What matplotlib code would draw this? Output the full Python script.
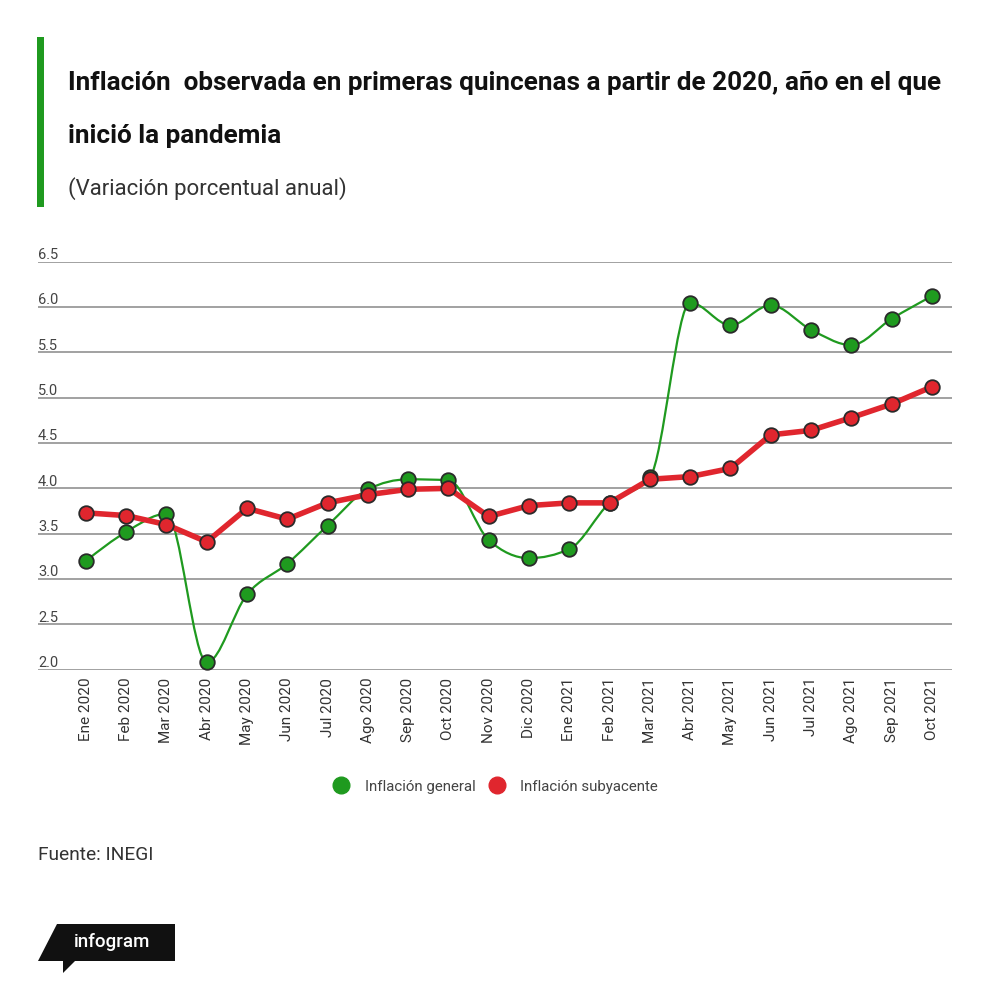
import numpy as np
import matplotlib
matplotlib.use("Agg")
import matplotlib.pyplot as plt
from matplotlib.path import Path
from matplotlib.patches import PathPatch, Polygon, Rectangle
from matplotlib.lines import Line2D

plt.rcParams['font.family'] = ['Roboto', 'DejaVu Sans']

# %%
meses = ['Ene 2020', 'Feb 2020', 'Mar 2020', 'Abr 2020', 'May 2020', 'Jun 2020',
         'Jul 2020', 'Ago 2020', 'Sep 2020', 'Oct 2020', 'Nov 2020', 'Dic 2020',
         'Ene 2021', 'Feb 2021', 'Mar 2021', 'Abr 2021', 'May 2021', 'Jun 2021',
         'Jul 2021', 'Ago 2021', 'Sep 2021', 'Oct 2021']

general = [3.20, 3.52, 3.72, 2.08, 2.83, 3.17, 3.59, 3.99, 4.10, 4.09, 3.43,
           3.23, 3.33, 3.84, 4.12, 6.05, 5.80, 6.02, 5.75, 5.58, 5.87, 6.12]

subyacente = [3.73, 3.70, 3.60, 3.41, 3.78, 3.66, 3.84, 3.93, 3.99, 4.00, 3.69,
              3.81, 3.84, 3.84, 4.10, 4.13, 4.22, 4.59, 4.64, 4.78, 4.93, 5.12]

yticks = [2.0, 2.5, 3.0, 3.5, 4.0, 4.5, 5.0, 5.5, 6.0, 6.5]

VERDE = '#1f9a1f'
ROJO = '#e0262e'
BORDE = '#2a2a2a'


def curva_monotona(x, y):
    # same idea as d3.curveMonotoneX: cubic bezier segments, no overshoot
    x = np.asarray(x, float)
    y = np.asarray(y, float)
    n = len(x)
    h = np.diff(x)
    s = np.diff(y) / h
    t = np.zeros(n)
    for i in range(1, n - 1):
        p = (s[i - 1] * h[i] + s[i] * h[i - 1]) / (h[i - 1] + h[i])
        t[i] = (np.sign(s[i - 1]) + np.sign(s[i])) * min(abs(s[i - 1]), abs(s[i]), 0.5 * abs(p))
    t[0] = (3 * s[0] - t[1]) / 2
    t[-1] = (3 * s[-1] - t[-2]) / 2
    verts = [(x[0], y[0])]
    codes = [Path.MOVETO]
    for i in range(n - 1):
        dx = h[i] / 3
        verts += [(x[i] + dx, y[i] + dx * t[i]),
                  (x[i + 1] - dx, y[i + 1] - dx * t[i + 1]),
                  (x[i + 1], y[i + 1])]
        codes += [Path.CURVE4] * 3
    return Path(verts, codes)


# %%
fig = plt.figure(figsize=(10, 9.95), dpi=100)
W, H = 1000, 995


def fy(py):
    return 1 - py / H


ax = fig.add_axes([38 / W, fy(670.7), 914 / W, 408 / H])
x = np.arange(len(meses))

ax.add_patch(PathPatch(curva_monotona(x, general), fill=False, edgecolor=VERDE,
                       lw=1.6, zorder=3))
ax.plot(x, general, 'o', ms=10.5, mfc=VERDE, mec=BORDE, mew=1.3, zorder=4, clip_on=False)

ax.plot(x, subyacente, '-', color=ROJO, lw=4, zorder=5, solid_joinstyle='round')
ax.plot(x, subyacente, 'o', ms=10.5, mfc=ROJO, mec=BORDE, mew=1.3, zorder=6, clip_on=False)

ax.set_xlim(-1.19, 21.5)
ax.set_ylim(2.0, 6.5)
for s in ax.spines.values():
    s.set_visible(False)

ax.set_yticks(yticks)
ax.set_yticklabels([])
ax.tick_params(axis='y', length=0)
ax.grid(axis='y', color='#9a9a9a', lw=1.3, zorder=1)
for v in yticks:
    ax.annotate(f'{v:.1f}', xy=(0, v), xycoords=ax.get_yaxis_transform(),
                xytext=(0, 0.5), textcoords='offset points', ha='left', va='bottom',
                fontsize=10.5, color='#444444')

ax.set_xticks(x)
ax.set_xticklabels(meses, rotation=90, fontsize=11, color='#333333')
ax.tick_params(axis='x', length=0, pad=5)

# title block
fig.add_artist(Rectangle((37 / W, fy(208)), 7 / W, 170 / H, transform=fig.transFigure,
                         color='#1f9a1f', lw=0))
fig.text(68 / W, fy(83), 'Inflación  observada en primeras quincenas a partir de 2020, año en el que',
         fontsize=18.8, fontweight='bold', color='#111111', va='center', ha='left')
fig.text(68 / W, fy(136), 'inició la pandemia',
         fontsize=18.8, fontweight='bold', color='#111111', va='center', ha='left')
fig.text(68 / W, fy(189), '(Variación porcentual anual)',
         fontsize=16, color='#333333', va='center', ha='left')

# legend
handles = [Line2D([], [], ls='none', marker='o', ms=12, mfc=VERDE, mec=VERDE, label='Inflación general'),
           Line2D([], [], ls='none', marker='o', ms=12, mfc=ROJO, mec=ROJO, label='Inflación subyacente')]
fig.legend(handles=handles, loc='center', bbox_to_anchor=(0.495, fy(787)), ncol=2, frameon=False,
           fontsize=10.8, handlelength=1.2, handletextpad=1.0, columnspacing=0.8,
           labelcolor='#444444')

fig.text(38 / W, fy(855), 'Fuente: INEGI', fontsize=13.8, color='#333333', va='center', ha='left')

# infogram badge
badge = [(57, 925), (175, 925), (175, 962), (75, 962), (63, 974), (63, 962), (38, 962)]
fig.add_artist(Polygon([(px / W, fy(py)) for px, py in badge], closed=True,
                       transform=fig.transFigure, color='#111111', lw=0))
fig.text(112 / W, fy(942), 'infogram', fontsize=13.5, color='white', fontweight='medium',
         va='center', ha='center')

fig.savefig('out.png', dpi=100, facecolor='white')
